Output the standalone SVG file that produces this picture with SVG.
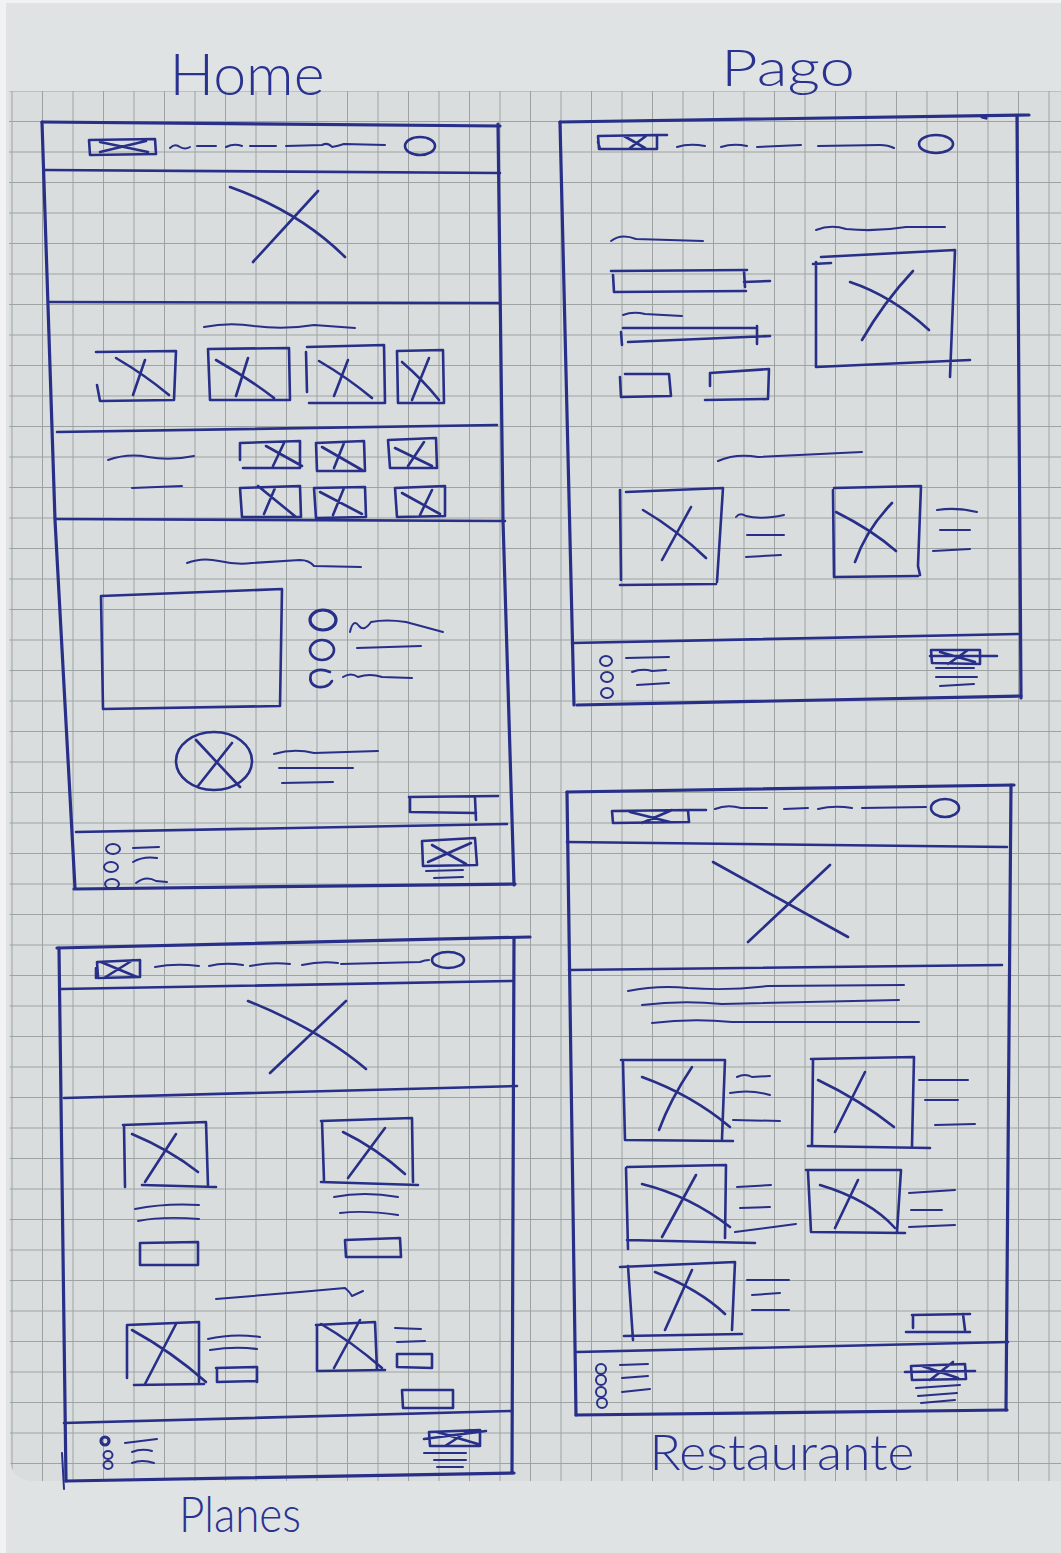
<svg xmlns="http://www.w3.org/2000/svg" width="1061" height="1553" viewBox="0 0 1061 1553">
<style>
.i{fill:none;stroke:#272f88;stroke-width:2.6;stroke-linecap:round;stroke-linejoin:round}
.s{fill:none;stroke:#272f88;stroke-width:2;stroke-linecap:round;stroke-linejoin:round}
.f{fill:none;stroke:#272f88;stroke-width:3.2;stroke-linecap:round;stroke-linejoin:round}
.t{font-family:"Lato","Liberation Sans",sans-serif;font-weight:300;fill:#2a3290}
</style>
<defs>
<pattern id="grid" patternUnits="userSpaceOnUse" x="11.5" y="90.5" width="30.5" height="30.5">
<path d="M0.5,0 V30.5 M0,0.5 H30.5" stroke="#9ca2a2" stroke-width="1" fill="none"/>
</pattern>
</defs>
<rect width="1061" height="1553" fill="#f1f2f2"/>
<rect x="6" y="3" width="1055" height="1550" fill="#e0e3e3"/>
<path d="M9,91 H1061 V1481 H34 Q10,1481 10,1457 Z" fill="#dadddd"/>
<path d="M9,91 H1061 V1481 H34 Q10,1481 10,1457 Z" fill="url(#grid)"/>

<g id="titles">
<text class="t" x="247" y="95" font-size="58" text-anchor="middle" textLength="155" lengthAdjust="spacingAndGlyphs">Home</text>
<text class="t" x="788" y="86" font-size="52" text-anchor="middle" textLength="134" lengthAdjust="spacingAndGlyphs">Pago</text>
<text class="t" x="782" y="1470" font-size="50" text-anchor="middle" textLength="265" lengthAdjust="spacingAndGlyphs">Restaurante</text>
<text class="t" x="240" y="1532" font-size="50" text-anchor="middle" textLength="122" lengthAdjust="spacingAndGlyphs">Planes</text>
</g>

<g id="home">
<path class="f" d="M42,122 L500,126"/>
<path class="f" d="M42,122 L55,520 L75,888"/>
<path class="f" d="M498,124 L503,520 L514,885"/>
<path class="f" d="M74,889 L515,884"/>
<path class="i" d="M45,170 L500,173"/>
<path class="i" d="M89,140 L155,139 L156,154 L90,155 Z M100,142 L148,152 M100,152 L146,141"/>
<path class="s" d="M170,148 q5,-5 10,-1 q5,3 10,0 M197,146 L216,146 M226,147 q8,-4 16,-1 M250,146 L276,146 M286,146 L322,145 q6,-3 10,2 q6,-1 12,-3 L385,145"/>
<ellipse class="i" cx="420" cy="146" rx="15" ry="9"/>
<path class="i" d="M230,187 Q300,212 345,257 M318,191 L253,262"/>
<path class="i" d="M50,302 L500,303"/>
<path class="s" d="M204,327 q25,-5 50,-1 q30,4 60,-1 L355,328"/>
<path class="i" d="M96,352 L176,351 L174,400 L100,401 L97,385 M116,358 Q145,375 169,395 M145,360 L133,395"/>
<path class="i" d="M208,349 L289,348 L290,400 L210,400 Z M216,360 Q248,378 274,398 M248,358 L236,396"/>
<path class="i" d="M307,347 L384,345 L385,403 L309,403 M306,352 L307,392 M319,361 Q348,378 372,398 M348,360 L334,396"/>
<path class="i" d="M397,351 L443,350 L444,403 L398,403 Z M402,362 Q423,380 439,400 M429,358 L412,400"/>
<path class="i" d="M57,432 L497,425"/>
<path class="s" d="M108,460 q20,-7 40,-3 q22,4 46,-1 M132,488 L182,486"/>
<path class="i" d="M240,443 L300,441 L300,468 L243,468 M240,443 L240,460 M266,446 L302,466 M284,443 L273,466"/>
<path class="i" d="M316,443 L364,441 L365,471 L317,471 Z M322,447 L362,470 M344,443 L334,468"/>
<path class="i" d="M388,440 L436,438 L437,468 L390,468 Z M395,448 L432,466 M424,442 L408,466"/>
<path class="i" d="M240,488 L300,486 L301,517 L242,517 Z M258,486 L296,517 M275,488 L264,514"/>
<path class="i" d="M314,488 L365,487 L366,517 L316,518 Z M320,492 L362,514 M344,488 L333,515"/>
<path class="i" d="M395,488 L445,486 L445,516 L397,517 Z M402,493 L440,514 M432,490 L420,515"/>
<path class="i" d="M55,519 L505,521"/>
<path class="s" d="M187,563 q15,-6 32,-2 q18,4 33,2 L300,560 q9,0 14,6 L361,567"/>
<path class="i" d="M101,596 L282,589 L280,706 L103,709 Z"/>
<ellipse class="f" cx="323" cy="620" rx="13" ry="10"/>
<ellipse class="i" cx="322" cy="650" rx="12" ry="10"/>
<path class="i" d="M330,672 Q318,667 311,674 Q308,684 318,687 Q328,688 332,681"/>
<path class="s" d="M350,632 q3,-14 9,-6 q5,6 12,-4 q15,-3 35,0 L443,632 M357,648 L421,646 M343,677 q8,-5 15,0 q12,-4 24,0 L412,678"/>
<ellipse class="i" cx="214" cy="761" rx="38" ry="29"/>
<path class="i" d="M196,740 L240,787 M232,743 L198,786"/>
<path class="s" d="M274,754 q20,-6 40,-1 L378,751 M279,768 L353,768 M282,783 L333,782"/>
<path class="i" d="M409,797 L498,796 M410,798 L410,812 L476,813 M475,798 L476,820"/>
<path class="i" d="M76,832 L507,824"/>
<ellipse class="s" cx="113" cy="849" rx="7" ry="5"/>
<ellipse class="s" cx="111" cy="867" rx="7" ry="5"/>
<ellipse class="s" cx="112" cy="884" rx="7" ry="5"/>
<path class="s" d="M133,848 L159,847 M133,862 q10,-6 24,-4 M136,883 q10,-8 20,-2 L167,882"/>
<path class="i" d="M422,841 L475,838 L477,865 L423,866 Z M428,862 L471,843 M432,845 L466,864"/>
<path class="s" d="M426,871 L463,870 M434,878 L463,877"/>
</g>

<g id="pago">
<path class="f" d="M560,122 L1029,115"/>
<path class="f" d="M560,122 L574,705"/>
<path class="f" d="M1017,116 L1021,698"/>
<path class="f" d="M577,705 L1021,696"/>
<path class="f" d="M982,117 L986,118"/>
<path class="i" d="M598,136 L657,135 L657,149 L599,149 Z M598,142 L600,149 M624,136 L645,148 M646,136 L630,148 M657,135 L667,135"/>
<path class="s" d="M677,147 q12,-4 28,-1 M721,147 q12,-4 26,-1 M757,147 L801,145 M818,146 L880,145 q8,0 14,3"/>
<ellipse class="i" cx="936" cy="144" rx="17" ry="9"/>
<path class="s" d="M611,241 q10,-8 25,-2 L703,241"/>
<path class="i" d="M611,271 L747,270 M613,275 L614,292 L746,291 M744,271 L745,287 M744,282 L770,281"/>
<path class="s" d="M623,315 q10,-4 22,-1 L682,316"/>
<path class="i" d="M623,328 L755,328 M621,332 L622,345 M757,326 L757,344 M628,342 L770,336"/>
<path class="i" d="M620,377 L621,397 L671,396 L669,374 L625,374 M710,386 L710,373 L769,369 L768,399 L705,400"/>
<path class="s" d="M816,230 q15,-6 30,-1 q30,3 60,-2 L945,227"/>
<path class="i" d="M821,257 L955,250 M813,264 L831,263 M816,262 L816,367 M816,367 L970,360 M955,250 L950,377"/>
<path class="i" d="M850,282 Q892,296 929,330 M913,271 Q884,302 862,340"/>
<path class="s" d="M718,461 q18,-8 40,-4 L862,452"/>
<path class="i" d="M620,490 L621,580 M626,492 L723,488 L717,582 M620,585 L716,584"/>
<path class="i" d="M643,510 Q677,530 706,558 M691,507 L662,560"/>
<path class="s" d="M736,517 q4,-5 10,-1 q14,4 38,-1 M747,535 L784,535 M746,557 L781,555"/>
<path class="i" d="M834,488 L921,486 L918,566 L920,575 M833,490 L834,577 L918,576"/>
<path class="i" d="M836,512 Q872,530 896,551 M892,503 Q866,530 855,562"/>
<path class="s" d="M937,510 q20,-3 40,2 M940,530 L970,530 M933,551 L970,549"/>
<path class="i" d="M572,643 L1018,634"/>
<ellipse class="s" cx="606" cy="661" rx="6" ry="5"/>
<ellipse class="s" cx="607" cy="677" rx="6" ry="5"/>
<ellipse class="s" cx="607" cy="693" rx="6" ry="5"/>
<path class="s" d="M626,658 L669,657 M632,672 q10,-4 20,-1 L666,670 M637,685 L669,683"/>
<path class="i" d="M931,650 L980,650 L980,664 L932,663 Z M930,656 L997,656 M940,652 L975,662 M968,650 L948,664"/>
<path class="s" d="M936,668 L974,668 M936,677 L977,677 M940,686 L974,684"/>
</g>

<g id="planes">
<path class="f" d="M57,948 L530,937"/>
<path class="f" d="M59,948 L66,1481"/>
<path class="s" d="M62,1453 L64,1489"/>
<path class="f" d="M514,938 L512,1473"/>
<path class="f" d="M66,1481 L514,1473"/>
<path class="i" d="M61,989 L512,981"/>
<path class="i" d="M97,962 L140,960 L140,977 L98,978 Z M96,968 L96,978 M101,962 L137,977 M133,960 L104,978"/>
<path class="s" d="M155,967 q20,-4 44,-1 M209,966 q15,-4 34,-1 M250,966 q20,-4 40,-2 M302,965 q18,-4 36,-2 M341,964 L420,962 q5,-2 9,-2"/>
<ellipse class="i" cx="448" cy="960" rx="16" ry="8"/>
<path class="i" d="M248,1001 Q320,1030 366,1069 M346,1001 L270,1073"/>
<path class="i" d="M64,1098 L517,1086"/>
<path class="i" d="M123,1125 L206,1122 L208,1186 M124,1125 L125,1187 M142,1185 L216,1187"/>
<path class="i" d="M132,1134 Q170,1150 198,1172 M176,1134 L145,1182"/>
<path class="s" d="M135,1209 q30,-6 64,-4 M138,1221 q25,-5 61,-2"/>
<path class="i" d="M140,1243 L198,1242 L198,1265 L140,1265 Z"/>
<path class="i" d="M321,1121 L412,1118 L413,1182 M322,1121 L324,1180 M321,1182 L418,1185"/>
<path class="i" d="M343,1132 Q376,1148 405,1174 M385,1128 L348,1178"/>
<path class="s" d="M334,1197 q30,-6 64,0 M340,1213 q25,-3 58,2"/>
<path class="i" d="M345,1240 L400,1238 L401,1257 L346,1257 Z"/>
<path class="s" d="M216,1299 L300,1292 L345,1288 q5,4 7,8 L363,1291"/>
<path class="i" d="M127,1325 L199,1322 L199,1382 M127,1326 L127,1378 M134,1385 L204,1384"/>
<path class="i" d="M132,1330 Q172,1352 206,1382 M176,1324 L145,1384"/>
<path class="s" d="M208,1339 q25,-6 52,-2 M210,1350 q25,-4 47,-1"/>
<path class="i" d="M216,1368 L257,1367 L257,1382 M217,1368 L217,1382 L257,1381"/>
<path class="i" d="M316,1325 L375,1322 L377,1370 M317,1325 L317,1371 L385,1370"/>
<path class="i" d="M321,1324 Q352,1342 382,1368 M360,1320 L334,1368"/>
<path class="s" d="M395,1328 L421,1329 M397,1342 L425,1341"/>
<path class="i" d="M397,1354 L432,1354 L432,1368 L397,1367 Z"/>
<path class="i" d="M402,1390 L453,1390 L453,1408 L403,1408 Z"/>
<path class="i" d="M64,1423 L512,1411"/>
<ellipse class="f" cx="105" cy="1441" rx="4" ry="4"/>
<ellipse class="s" cx="108" cy="1455" rx="4.5" ry="4"/>
<ellipse class="s" cx="108" cy="1465" rx="4.5" ry="4"/>
<path class="s" d="M125,1443 L157,1439 M132,1452 q10,-4 20,-1 M132,1463 q10,-4 22,0"/>
<path class="i" d="M429,1432 L480,1430 L480,1446 L430,1446 Z M424,1439 L486,1431 M437,1432 L478,1444 M470,1430 L445,1446"/>
<path class="s" d="M424,1453 L466,1453 M434,1460 L466,1460 M437,1467 L463,1467"/>
</g>

<g id="restaurante">
<path class="f" d="M567,792 L1014,785"/>
<path class="f" d="M567,792 L576,1415"/>
<path class="f" d="M1011,785 L1006,1410"/>
<path class="f" d="M576,1415 L1007,1410"/>
<path class="i" d="M567,842 L1007,847"/>
<path class="i" d="M612,811 L688,810 L689,822 L613,823 Z M630,812 L670,822 M672,810 L642,823 M689,810 L706,810"/>
<path class="s" d="M715,809 q12,-5 26,-1 L767,808 M784,809 L808,808 M818,809 q16,-4 34,-1 M862,808 L926,807"/>
<ellipse class="i" cx="945" cy="808" rx="14" ry="9"/>
<path class="i" d="M713,862 L848,937 M830,865 L748,942"/>
<path class="i" d="M569,970 L1002,965"/>
<path class="s" d="M628,991 q30,-6 60,-3 q40,3 80,-2 L904,985 M642,1005 q40,-5 80,-1 L899,1000 M652,1023 q40,-5 80,-1 L919,1022"/>
<path class="i" d="M621,1060 L725,1060 L722,1139 M623,1062 L625,1140 L733,1141"/>
<path class="i" d="M642,1077 Q692,1095 730,1127 M692,1067 Q670,1100 659,1130"/>
<path class="s" d="M737,1077 q8,-4 15,0 L770,1076 M730,1093 q20,-4 40,2 M733,1120 L780,1121"/>
<path class="i" d="M811,1059 L914,1057 L912,1146 M813,1060 L812,1145 M808,1146 L930,1148"/>
<path class="i" d="M818,1080 Q860,1100 894,1127 M865,1072 L835,1132"/>
<path class="s" d="M919,1080 L968,1080 M925,1100 L958,1100 M935,1125 L975,1124"/>
<path class="i" d="M627,1167 L726,1165 L725,1238 M626,1168 L628,1249 M627,1240 L755,1243"/>
<path class="i" d="M642,1184 Q690,1196 730,1227 M696,1175 L662,1237"/>
<path class="s" d="M737,1187 L771,1185 M740,1208 L770,1207 M735,1232 L796,1224"/>
<path class="i" d="M806,1170 L901,1170 L897,1232 M808,1172 L811,1232 L905,1233"/>
<path class="i" d="M820,1185 Q870,1200 895,1228 M858,1180 L835,1228"/>
<path class="s" d="M909,1193 L955,1190 M911,1210 L942,1210 M909,1227 L955,1225"/>
<path class="i" d="M620,1267 L735,1262 L732,1330 M628,1266 L633,1340 M624,1336 L742,1334"/>
<path class="i" d="M655,1272 Q700,1290 725,1314 M692,1270 L665,1330"/>
<path class="s" d="M747,1280 L789,1280 M752,1295 L780,1293 M752,1310 L789,1310"/>
<path class="i" d="M912,1315 L970,1314 M913,1316 L913,1328 M963,1314 L965,1330 M906,1332 L970,1332"/>
<path class="i" d="M577,1352 L1008,1342"/>
<ellipse class="s" cx="601" cy="1369" rx="5" ry="5"/>
<ellipse class="s" cx="601" cy="1380" rx="5" ry="5"/>
<ellipse class="s" cx="601" cy="1392" rx="5" ry="5"/>
<ellipse class="s" cx="602" cy="1403" rx="5" ry="5"/>
<path class="s" d="M620,1365 L648,1364 M622,1378 L648,1376 M622,1392 L650,1389"/>
<path class="i" d="M911,1366 L965,1364 L966,1379 L912,1380 Z M905,1372 L975,1371 M922,1366 L958,1378 M953,1362 L930,1380"/>
<path class="s" d="M916,1388 L960,1385 M918,1396 L957,1393 M921,1403 L955,1400"/>
</g>
</svg>
